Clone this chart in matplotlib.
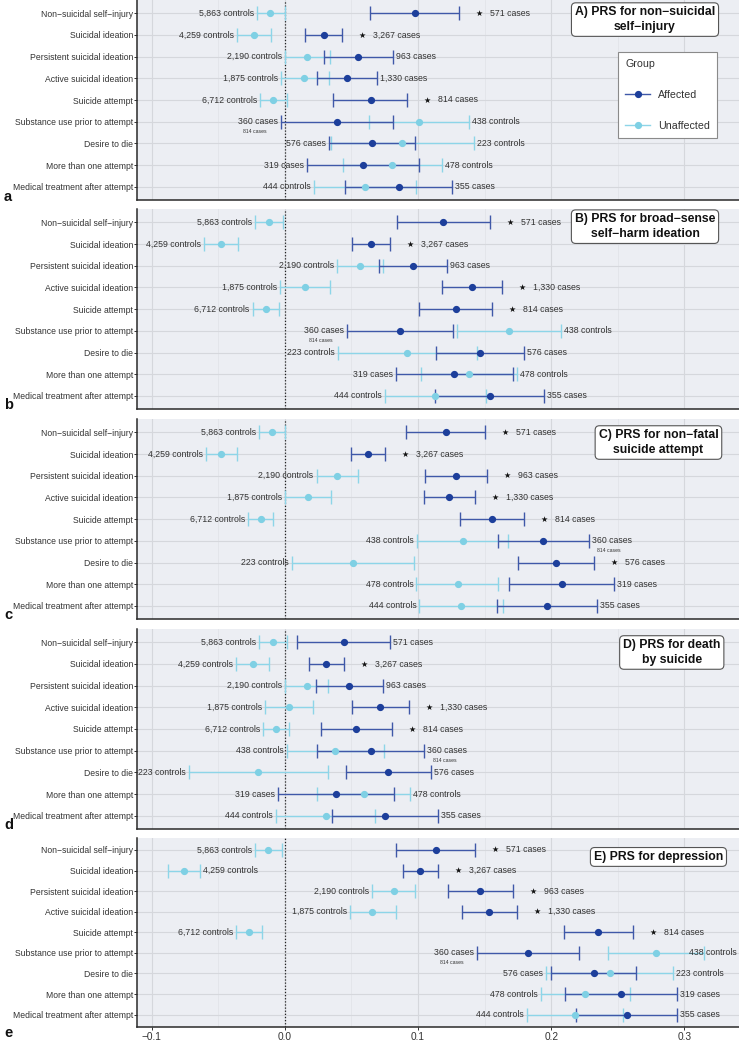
import matplotlib
matplotlib.use("Agg")
import matplotlib.pyplot as plt
from matplotlib.lines import Line2D
import numpy as np

plt.rcParams["font.family"] = ["Liberation Sans", "DejaVu Sans"]

# ---------------- data ----------------
categories = ["Non\u2212suicidal self\u2212injury", "Suicidal ideation", "Persistent suicidal ideation",
              "Active suicidal ideation", "Suicide attempt", "Substance use prior to attempt",
              "Desire to die", "More than one attempt", "Medical treatment after attempt"]
controls_n = ["5,863", "4,259", "2,190", "1,875", "6,712", "438", "223", "478", "444"]
cases_n = ["571", "3,267", "963", "1,330", "814", "360", "576", "319", "355"]
extra_note = "814 cases"
extra_note_row = 5

titles = ["A) PRS for non\u2212suicidal\nself\u2212injury",
          "B) PRS for broad\u2212sense\nself\u2212harm ideation",
          "C) PRS for non\u2212fatal\nsuicide attempt",
          "D) PRS for death\nby suicide",
          "E) PRS for depression"]
letters = ["a", "b", "c", "d", "e"]
xtick_vals = [-0.1, 0.0, 0.1, 0.2, 0.3]
xtick_labels = ["\u22120.1", "0.0", "0.1", "0.2", "0.3"]

A_aff = [0.0975, 0.0293, 0.0553, 0.0468, 0.0645, 0.0393, 0.0655, 0.0588, 0.0858]
A_aff_lo = [0.0643, 0.0153, 0.0291, 0.0243, 0.0363, -0.0030, 0.0328, 0.0163, 0.0455]
A_aff_hi = [0.1308, 0.0430, 0.0815, 0.0693, 0.0920, 0.0815, 0.0978, 0.1008, 0.1258]
A_un = [-0.0108, -0.0231, 0.0170, 0.0145, -0.0086, 0.1008, 0.0883, 0.0808, 0.0605]
A_un_lo = [-0.0211, -0.0359, 0.0000, -0.0030, -0.0184, 0.0633, 0.0345, 0.0438, 0.0220]
A_un_hi = [0.0004, -0.0106, 0.0343, 0.0328, 0.0018, 0.1380, 0.1420, 0.1180, 0.0988]
A_star = [1, 1, 0, 0, 1, 0, 0, 0, 0]

B_aff = [0.1185, 0.0648, 0.0960, 0.1406, 0.1285, 0.0868, 0.1464, 0.1268, 0.1540]
B_aff_lo = [0.0840, 0.0505, 0.0705, 0.1183, 0.1010, 0.0468, 0.1136, 0.0835, 0.1130]
B_aff_hi = [0.1538, 0.0788, 0.1220, 0.1629, 0.1558, 0.1263, 0.1794, 0.1710, 0.1949]
B_un = [-0.0119, -0.0479, 0.0563, 0.0150, -0.0143, 0.1686, 0.0920, 0.1380, 0.1125]
B_un_lo = [-0.0224, -0.0605, 0.0390, -0.0033, -0.0241, 0.1293, 0.0400, 0.1025, 0.0753]
B_un_hi = [-0.0011, -0.0349, 0.0740, 0.0338, -0.0043, 0.2077, 0.1440, 0.1744, 0.1510]
B_star = [1, 1, 0, 1, 1, 0, 0, 0, 0]

C_aff = [0.1208, 0.0625, 0.1288, 0.1233, 0.1556, 0.1941, 0.2037, 0.2079, 0.1967]
C_aff_lo = [0.0913, 0.0498, 0.1055, 0.1045, 0.1313, 0.1603, 0.1751, 0.1684, 0.1590]
C_aff_hi = [0.1505, 0.0753, 0.1518, 0.1425, 0.1796, 0.2285, 0.2320, 0.2475, 0.2345]
C_un = [-0.0094, -0.0477, 0.0393, 0.0173, -0.0181, 0.1335, 0.0515, 0.1298, 0.1323]
C_un_lo = [-0.0192, -0.0590, 0.0238, 0.0000, -0.0274, 0.0993, 0.0055, 0.0988, 0.1010]
C_un_hi = [0.0004, -0.0357, 0.0553, 0.0345, -0.0091, 0.1679, 0.0970, 0.1603, 0.1640]
C_star = [1, 1, 1, 1, 1, 0, 1, 0, 0]

D_aff = [0.0443, 0.0310, 0.0485, 0.0718, 0.0538, 0.0648, 0.0775, 0.0385, 0.0753]
D_aff_lo = [0.0093, 0.0178, 0.0235, 0.0503, 0.0270, 0.0245, 0.0460, -0.0053, 0.0355]
D_aff_hi = [0.0793, 0.0448, 0.0740, 0.0930, 0.0808, 0.1048, 0.1095, 0.0823, 0.1153]
D_un = [-0.0091, -0.0241, 0.0163, 0.0033, -0.0066, 0.0380, -0.0199, 0.0593, 0.0308]
D_un_lo = [-0.0192, -0.0366, 0.0000, -0.0148, -0.0164, 0.0013, -0.0720, 0.0245, -0.0068]
D_un_hi = [0.0014, -0.0121, 0.0325, 0.0213, 0.0032, 0.0745, 0.0323, 0.0940, 0.0678]
D_star = [0, 1, 0, 1, 1, 0, 0, 0, 0]

E_aff = [0.1136, 0.1018, 0.1468, 0.1536, 0.2355, 0.1829, 0.2320, 0.2527, 0.2568]
E_aff_lo = [0.0837, 0.0890, 0.1228, 0.1333, 0.2097, 0.1446, 0.2002, 0.2104, 0.2187]
E_aff_hi = [0.1431, 0.1151, 0.1714, 0.1741, 0.2617, 0.2206, 0.2634, 0.2943, 0.2946]
E_un = [-0.0129, -0.0757, 0.0818, 0.0658, -0.0271, 0.2788, 0.2440, 0.2257, 0.2179]
E_un_lo = [-0.0226, -0.0877, 0.0658, 0.0488, -0.0364, 0.2429, 0.1964, 0.1922, 0.1820]
E_un_hi = [-0.0023, -0.0634, 0.0980, 0.0833, -0.0174, 0.3151, 0.2918, 0.2590, 0.2540]
E_star = [1, 1, 1, 1, 1, 0, 0, 0, 0]

panels = [
    (A_aff, A_aff_lo, A_aff_hi, A_un, A_un_lo, A_un_hi, A_star),
    (B_aff, B_aff_lo, B_aff_hi, B_un, B_un_lo, B_un_hi, B_star),
    (C_aff, C_aff_lo, C_aff_hi, C_un, C_un_lo, C_un_hi, C_star),
    (D_aff, D_aff_lo, D_aff_hi, D_un, D_un_lo, D_un_hi, D_star),
    (E_aff, E_aff_lo, E_aff_hi, E_un, E_un_lo, E_un_hi, E_star),
]

# ---------------- style / layout ----------------
W, H = 739, 1044
AFF_PT, AFF_BAR = "#1d3f9b", "#3f58a8"
UN_PT, UN_BAR = "#7fd0e4", "#8dd5e8"
BG = "#eceef3"
GRID_MAJ, GRID_MIN = "#d5d7dc", "#e2e4e9"
TXT = "#333333"
LEFT_PX, RIGHT_PX = 137.3, 739.0
PANEL_PX = [(0.3, 199.7), (209.3, 409.0), (419.3, 619.0), (629.3, 828.7), (837.6, 1027.0)]
TITLE_POS = [(0.2705, 0.29), (0.2705, 0.20), (0.2806, 0.47), (0.2906, 0.47), (0.2806, 0.34)]
LETTER_Y = [197, 405, 615, 825, 1033]
XLIM = (-0.1108, 0.3411)
PX = 0.72  # points per pixel at dpi 100

fig = plt.figure(figsize=(W / 100, H / 100), dpi=100)
fig.patch.set_facecolor("white")

rows = np.arange(len(categories))
axes = []
label_records = []

for pi, (aff, aff_lo, aff_hi, un, un_lo, un_hi, star) in enumerate(panels):
    top, bot = PANEL_PX[pi]
    ax = fig.add_axes([LEFT_PX / W, 1 - bot / H, (RIGHT_PX - LEFT_PX) / W, (bot - top) / H])
    axes.append(ax)
    ax.set_facecolor(BG)
    ax.set_xlim(*XLIM)
    ax.set_ylim(len(categories) - 0.4, -0.6)
    ax.set_axisbelow(True)

    ax.set_xticks(xtick_vals)
    ax.set_xticks([-0.05, 0.05, 0.15, 0.25], minor=True)
    ax.set_yticks(rows)
    ax.set_yticklabels(categories, fontsize=6.2, color=TXT)
    ax.grid(which="major", color=GRID_MAJ, lw=0.8)
    ax.grid(which="minor", axis="x", color=GRID_MIN, lw=0.6)
    ax.tick_params(axis="y", length=2.2, width=0.7, color=TXT, pad=0.8)
    ax.tick_params(axis="x", which="minor", length=0)
    if pi == len(panels) - 1:
        ax.set_xticklabels(xtick_labels, fontsize=7.3, color=TXT)
        ax.tick_params(axis="x", which="major", length=2.2, width=0.7, color=TXT, pad=1.5)
    else:
        ax.set_xticklabels([])
        ax.tick_params(axis="x", which="major", length=0)

    for s in ["top", "right"]:
        ax.spines[s].set_visible(False)
    for s in ["left", "bottom"]:
        ax.spines[s].set_color("#2a2a2a")
        ax.spines[s].set_linewidth(1.1)

    ax.axvline(0, color="#222222", lw=0.9, ls=(0, (1, 1.5)), zorder=1.5)

    aff = np.array(aff); aff_lo = np.array(aff_lo); aff_hi = np.array(aff_hi)
    un = np.array(un); un_lo = np.array(un_lo); un_hi = np.array(un_hi)

    ax.errorbar(un, rows, xerr=[un - un_lo, un_hi - un], fmt="none", ecolor=UN_BAR,
                elinewidth=1.0, capsize=5, capthick=1.0, zorder=3)
    ax.errorbar(aff, rows, xerr=[aff - aff_lo, aff_hi - aff], fmt="none", ecolor=AFF_BAR,
                elinewidth=1.0, capsize=5, capthick=1.0, zorder=4)
    ax.plot(aff, rows, "o", ms=4.2, color=AFF_PT, mec=AFF_PT, zorder=5)
    ax.plot(un, rows, "o", ms=4.2, color=UN_PT, mec=UN_PT, zorder=6)

    # labels
    for r in rows:
        groups = [("aff", aff[r], aff_lo[r], aff_hi[r], cases_n[r] + " cases"),
                  ("un", un[r], un_lo[r], un_hi[r], controls_n[r] + " controls")]
        groups.sort(key=lambda g: g[1])
        glo, ghi = groups
        left = ax.annotate(glo[4], (min(glo[2], ghi[2]), r), xytext=(-3 * PX, 0),
                           textcoords="offset points", ha="right", va="center",
                           fontsize=6.3, color=TXT, zorder=7)
        right_x = max(glo[3], ghi[3])
        if star[r]:
            ax.annotate("\u2605", (right_x, r), xytext=(20 * PX, 0), textcoords="offset points",
                        ha="center", va="center", fontsize=5.8, color="#111111",
                        family=["DejaVu Sans"], zorder=7)
            off = 31 * PX
        else:
            off = 3 * PX
        right = ax.annotate(ghi[4], (right_x, r), xytext=(off, 0), textcoords="offset points",
                            ha="left", va="center", fontsize=6.3, color=TXT, zorder=7)
        label_records.append((ax, r, left, right, glo))

    tx, ty = TITLE_POS[pi]
    ax.text(tx, ty, titles[pi], ha="center", va="center", fontsize=8.8, fontweight="bold",
            color="#111111", linespacing=1.3, zorder=10,
            bbox=dict(boxstyle="round,pad=0.28,rounding_size=0.35", fc="white", ec="#555555", lw=0.8))

    fig.text(4 / W, 1 - LETTER_Y[pi] / H, letters[pi], fontsize=10.5, fontweight="bold",
             ha="left", va="center", color="#111111")

# adjust labels that overflow the panel
fig.canvas.draw()
renderer = fig.canvas.get_renderer()
for ax, r, left, right, glo in label_records:
    axb = ax.get_window_extent(renderer)
    bl = left.get_window_extent(renderer)
    if bl.x0 < axb.x0 - 8:
        left.xy = (glo[3], r)
        left.set_ha("left")
        left.xyann = (3 * PX, 0)
    br = right.get_window_extent(renderer)
    if br.x1 > axb.x1 - 2:
        shift = br.x1 - (axb.x1 - 2)
        dx, dy = right.xyann
        right.xyann = (dx - shift * PX, dy)

fig.canvas.draw()
for ax, r, left, right, glo in label_records:
    if r != extra_note_row:
        continue
    target = left if left.get_text().endswith("cases") else right
    bb = target.get_window_extent(renderer)
    cx = (bb.x0 + bb.x1) / 2 - 3
    xd = ax.transData.inverted().transform((cx, 0))[0]
    ax.text(xd, r + 0.45, extra_note, fontsize=3.7, color=TXT, ha="center", va="center", zorder=7)

# legend in first panel
handles = [Line2D([0], [0], color=AFF_BAR, lw=1.0, marker="o", ms=4.2, mfc=AFF_PT, mec=AFF_PT),
           Line2D([0], [0], color=UN_BAR, lw=1.0, marker="o", ms=4.2, mfc=UN_PT, mec=UN_PT)]
leg = axes[0].legend(handles, ["Affected", "Unaffected"], title="Group", loc="upper left",
                     bbox_to_anchor=(618.3 / W, 1 - 52.3 / H), bbox_transform=fig.transFigure,
                     fontsize=7.7, title_fontsize=7.7, frameon=True, fancybox=False,
                     edgecolor="#8a8a8a", framealpha=1, alignment="left", labelspacing=1.95,
                     handlelength=2.3, handletextpad=0.8, borderpad=0.65, borderaxespad=0)
leg.get_frame().set_linewidth(0.8)
leg.set_zorder(12)
for t in leg.get_texts():
    t.set_color(TXT)
leg.get_title().set_color(TXT)

fig.savefig("out.png", dpi=100, facecolor="white")
